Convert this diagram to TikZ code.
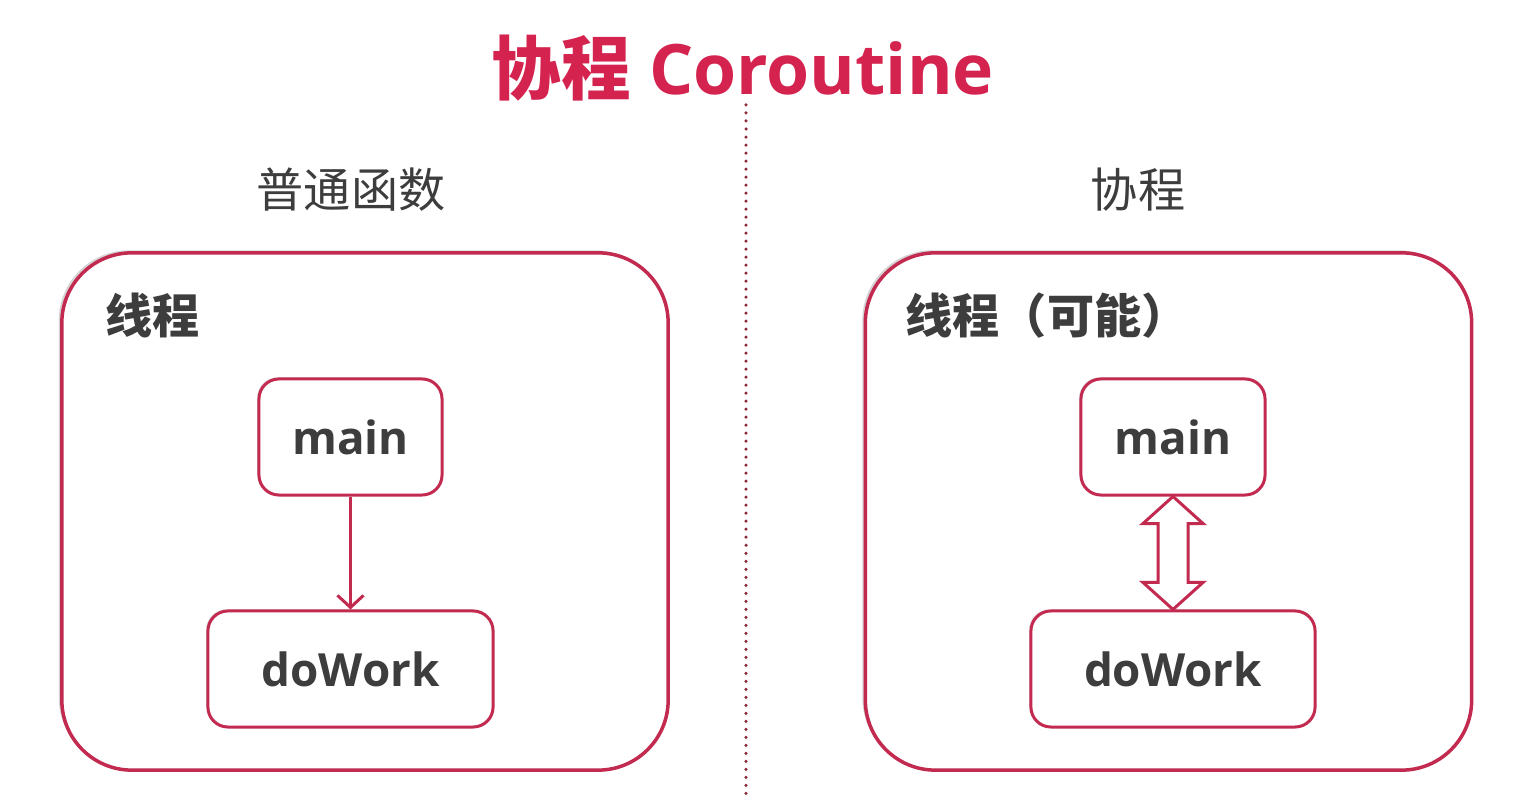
\documentclass[tikz,border=0pt]{standalone}
\usepackage{fontspec}
\setmainfont{Open Sans}
\newfontfamily\cjk{Noto Sans CJK SC}
\usetikzlibrary{arrows.meta,shadows,calc}
\definecolor{crim}{HTML}{D4234F}
\definecolor{bord}{HTML}{C22A50}
\definecolor{txt}{HTML}{3D3D3D}
\definecolor{dotc}{HTML}{8E2A3C}
\begin{document}
\begin{tikzpicture}[x=0.01cm,y=-0.01cm,
  outerbox/.style={draw=bord, line width=0.035cm, rounded corners=0.7cm, fill=white,
    minimum width=6.06cm, minimum height=5.17cm, inner sep=0pt,
    drop shadow={shadow xshift=-0.03cm, shadow yshift=0.025cm, opacity=0.3, fill=black!55}},
  smallbox/.style={draw=bord, line width=0.03cm, rounded corners=0.2cm, fill=white,
    minimum height=1.16cm, inner sep=0pt, text=txt,
    font=\fontsize{13pt}{16pt}\selectfont\bfseries,
    drop shadow={shadow xshift=-0.018cm, shadow yshift=0.015cm, opacity=0.22, fill=black!55}},
  heading/.style={text=txt, inner sep=0pt, font=\fontsize{13.4pt}{16pt}\selectfont\cjk},
  threadlabel/.style={text=txt, inner sep=0pt, anchor=west, font=\fontsize{13.4pt}{16pt}\selectfont\cjk\bfseries},
]
\useasboundingbox[fill=white] (0,0) rectangle (1538,798);

% title
\node[text=crim, inner sep=0pt, font=\fontsize{19.8pt}{24pt}\selectfont\bfseries] (title) at (743,68) {{\cjk 协程} Coroutine};

% divider
\coordinate (dtop) at (746,105);
\coordinate (dbot) at (746,798);
\draw[dotc, line width=0.035cm, line cap=round, dash pattern=on 0pt off 0.08cm] (dtop) -- (dbot);

% headings
\node[heading] (h1) at (351,190) {普通函数};
\node[heading] (h2) at (1138,190) {协程};

% outer boxes
\node[outerbox] (ob1) at (365,511.5) {};
\node[outerbox] (ob2) at (1168.5,511.5) {};

\node[threadlabel] (t1) at (105,316) {线程};
\node[threadlabel] (t2) at (905,316) {线程（可能）};

% left side
\node[smallbox, minimum width=1.83cm] (lm) at (350.5,437) {main};
\node[smallbox, minimum width=2.85cm] (ld) at (350.5,669) {doWork};
\draw[bord, line width=0.03cm, -{Straight Barb[length=0.12cm,width=0.26cm,line width=0.03cm]}] (lm) -- (ld);

% right side
\node[smallbox, minimum width=1.84cm] (rm) at (1173,437) {main};
\node[smallbox, minimum width=2.84cm] (rd) at (1173,669) {doWork};
\draw[bord, line width=0.03cm, fill=white, line join=miter]
  (rm.south) -- ++(30,27) -- ++(-15,0) -- ($(rd.north)+(15,-27)$) -- ++(15,0)
  -- (rd.north) -- ++(-30,-27) -- ++(15,0) -- ($(rm.south)+(-15,27)$) -- ++(-15,0) -- cycle;
\end{tikzpicture}
\end{document}
